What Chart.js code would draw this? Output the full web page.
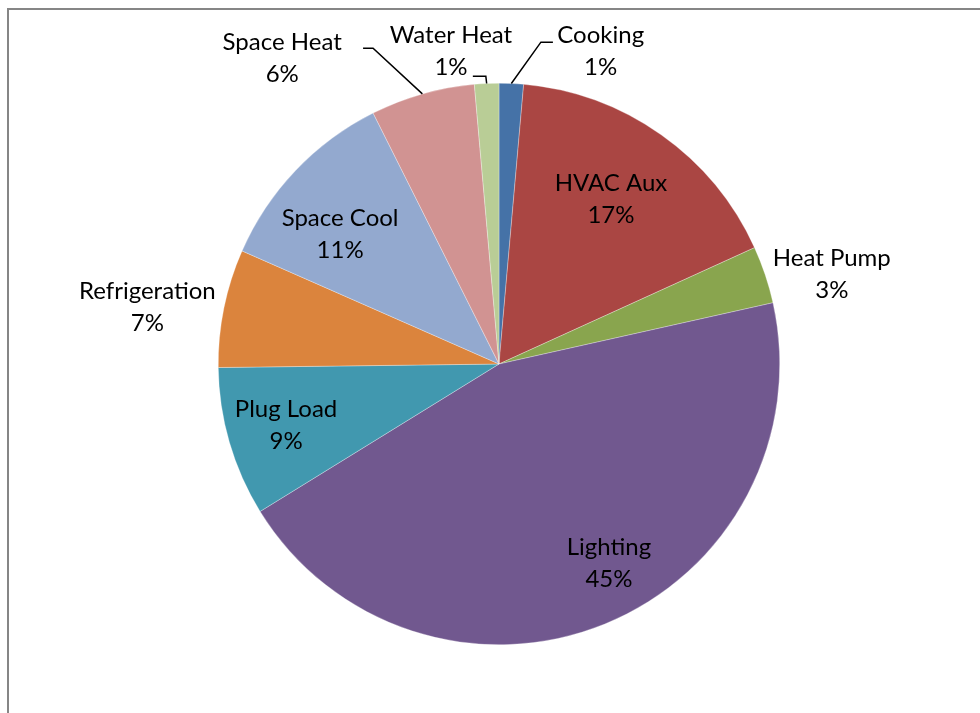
<!DOCTYPE html>
<html>
<head>
<meta charset="utf-8">
<script src="https://cdn.jsdelivr.net/npm/chart.js@4.4.1/dist/chart.umd.min.js"></script>
<style>
    html, body { margin: 0; padding: 0; background: #fff; overflow: hidden; }
    #wrap { position: relative; width: 980px; height: 713px; }
    #frame {
        position: absolute; left: 7px; top: 8px; width: 1000px; height: 800px;
        border-left: 2px solid #868686; border-top: 2px solid #868686;
    }
    canvas { position: absolute; left: 0; top: 0; }
</style>
</head>
<body>
<div id="wrap">
    <div id="frame"></div>
    <canvas id="chartEnergy" width="980" height="713"></canvas>
</div>
<script>
'use strict';

// ---- data --------------------------------------------------
const categories = ['Cooking', 'HVAC Aux', 'Heat Pump', 'Lighting', 'Plug Load',
                    'Refrigeration', 'Space Cool', 'Space Heat', 'Water Heat'];
const shares = [1.4, 16.8, 3.3, 44.7, 8.6, 6.8, 11.0, 6.0, 1.4];

// ---- styling -----------------------------------------------
const colors = ['#4572A7', '#AA4643', '#89A54E', '#71588F', '#4198AF',
                '#DB843D', '#93A9CF', '#D19392', '#B9CD96'];
// label placement: [radius as fraction of R, angle shift from slice middle in degrees]
const labelPlace = [[1.171, 15.5], [0.710, -1.1], [1.228, 3.4], [0.812, -6.7], [0.789, 0.2],
                    [1.269, -2.3], [0.731, -4.3], [1.335, -19.5], [1.127, -6.2]];
// leader lines: [elbow radius fraction, elbow angle shift, horizontal length]
const leaders = { 0: [1.156, 4.9, 12], 7: [1.211, -5.9, -10], 8: [1.026, -0.1, -13] };

const FONT = "24px Lato, 'Noto Sans', sans-serif";

const labelPlugin = {
    id: 'sliceLabels',
    afterDatasetsDraw(chart) {
        const { ctx } = chart;
        const meta = chart.getDatasetMeta(0);
        const total = shares.reduce((a, b) => a + b, 0);
        const rad = d => d * Math.PI / 180;

        ctx.save();
        meta.data.forEach((arc, i) => {
            const { x, y, outerRadius: R, startAngle, endAngle } = arc.getProps(
                ['x', 'y', 'outerRadius', 'startAngle', 'endAngle'], true);
            const mid = (startAngle + endAngle) / 2;

            // leader line
            const ld = leaders[i];
            if (ld) {
                const sx = x + R * Math.cos(mid), sy = y + R * Math.sin(mid);
                const ea = mid + rad(ld[1]);
                const ex = x + ld[0] * R * Math.cos(ea), ey = y + ld[0] * R * Math.sin(ea);
                ctx.beginPath();
                ctx.moveTo(sx, sy);
                ctx.lineTo(ex, ey);
                ctx.lineTo(ex + ld[2], ey);
                ctx.strokeStyle = '#000';
                ctx.lineWidth = 1.5;
                ctx.stroke();
            }

            // two-line label: category + percent
            const [rf, shift] = labelPlace[i];
            const a = mid + rad(shift);
            const lx = x + rf * R * Math.cos(a), ly = y + rf * R * Math.sin(a);
            const pct = Math.round(shares[i] / total * 100) + '%';
            ctx.font = FONT;
            ctx.fillStyle = '#000';
            ctx.textAlign = 'center';
            ctx.textBaseline = 'middle';
            ctx.fillText(categories[i], lx, ly - 16);
            ctx.fillText(pct, lx, ly + 16);
        });
        ctx.restore();
    },
};

const ctx = document.getElementById('chartEnergy');
new Chart(ctx, {
    type: 'pie',
    data: {
        labels: categories,
        datasets: [{
            data: shares,
            backgroundColor: colors,
            borderColor: 'rgba(255,255,255,0.6)',
            borderWidth: 0.5,
        }],
    },
    options: {
        responsive: false,
        animation: false,
        layout: { padding: { top: 83, bottom: 68, left: 218, right: 200 } },
        plugins: {
            legend: { display: false },
            tooltip: { enabled: false },
        },
    },
    plugins: [labelPlugin],
});
</script>
</body>
</html>
